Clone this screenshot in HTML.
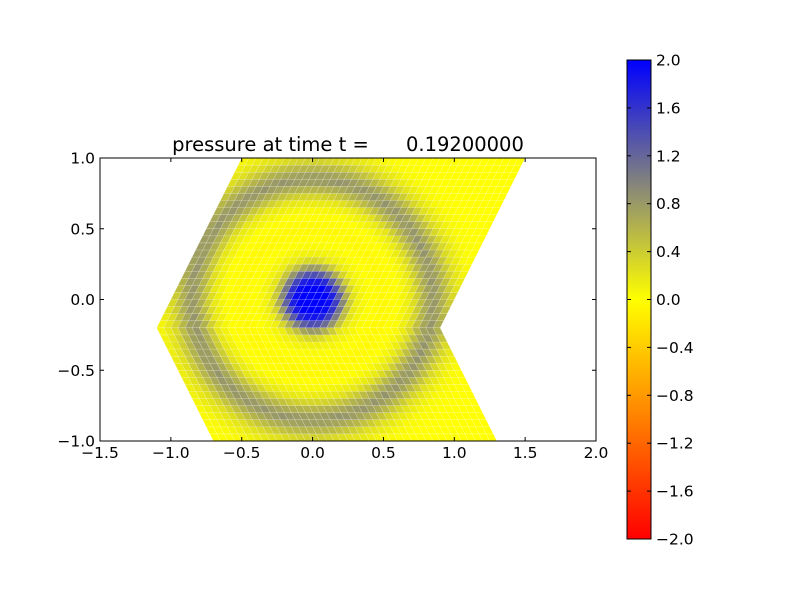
<!DOCTYPE html>
<html><head><meta charset="utf-8"><style>
body{margin:0;background:#fff;font-family:"DejaVu Sans",sans-serif}
text{white-space:pre}
</style></head><body>
<svg id="c" width="800" height="600" xmlns="http://www.w3.org/2000/svg" font-family="DejaVu Sans, sans-serif">
<rect width="800" height="600" fill="#fff"/>
<defs>
<linearGradient id="cg" x1="0" y1="1" x2="0" y2="0">
<stop offset="0" stop-color="#ff0000"/><stop offset="0.3" stop-color="#ff9900"/><stop offset="0.5" stop-color="#ffff00"/><stop offset="0.75" stop-color="#808080"/><stop offset="1" stop-color="#0000ff"/>
</linearGradient>
</defs>
<g id="mesh"></g>
<g id="axes"></g>
</svg>
<script>
const xTicks=[-1.5,-1.0,-0.5,0.0,0.5,1.0,1.5,2.0];
const yTicks=[-1.0,-0.5,0.0,0.5,1.0];
const cbTicks=[-2.0,-1.6,-1.2,-0.8,-0.4,0.0,0.4,0.8,1.2,1.6,2.0];
const profileR=[0,0.1,0.15,0.2,0.25,0.3,0.4,0.5,0.6,0.7,0.78,0.85,0.92,1.0,1.1,1.2,2.0];
const profileP=[2.0,2.0,1.7,1.1,0.5,0.15,0.0,-0.05,0.0,0.2,0.6,0.85,0.6,0.25,0.05,0.0,0.0];
const NS='http://www.w3.org/2000/svg';
const svg=document.getElementById('c');
const X0=100,X1=596,Y0=158,Y1=441;
const sx=v=>X0+(v+1.5)/3.5*(X1-X0);
const sy=v=>Y1-(v+1)/2*(Y1-Y0);
function el(t,a,p){const e=document.createElementNS(NS,t);for(const k in a)e.setAttribute(k,a[k]);(p||svg).appendChild(e);return e;}
function prof(r){for(let i=1;i<profileR.length;i++){if(r<=profileR[i]){const f=(r-profileR[i-1])/(profileR[i]-profileR[i-1]);return profileP[i-1]+f*(profileP[i]-profileP[i-1]);}}return 0;}
const stops=[[-2,[255,0,0]],[-0.8,[255,153,0]],[0,[255,255,0]],[1,[128,128,128]],[2,[0,0,255]]];
function cmap(v){v=Math.max(-2,Math.min(2,v));for(let i=1;i<stops.length;i++){if(v<=stops[i][0]){const a=stops[i-1],b=stops[i];const f=(v-a[0])/(b[0]-a[0]);return 'rgb('+a[1].map((c,j)=>Math.round(c+f*(b[1][j]-c))).join(',')+')';}}}
function xl(y){return y>=-0.2?-1.1+0.5*(y+0.2):-1.1+0.5*(-0.2-y);}
const mesh=document.getElementById('mesh');
const N=40;
for(let j=0;j<N;j++){const ya=-1+j*0.05,yb=ya+0.05;
 for(let i=0;i<N;i++){
  const pts=[[xl(ya)+i*0.05,ya],[xl(ya)+(i+1)*0.05,ya],[xl(yb)+(i+1)*0.05,yb],[xl(yb)+i*0.05,yb]];
  const cx=(pts[0][0]+pts[2][0])/2,cy=(ya+yb)/2;
  const p=prof(Math.hypot(cx,cy));
  const q=el('polygon',{points:pts.map(a=>sx(a[0])+','+sy(a[1])).join(' '),fill:cmap(p),stroke:'rgba(255,255,255,0.35)','stroke-width':0.5},mesh);
  
  
 }}
const ax=document.getElementById('axes');
const fr=el('rect',{x:X0,y:Y0,width:X1-X0,height:Y1-Y0,fill:'none',stroke:'#000'},ax);

xTicks.forEach(v=>{const x=sx(v);el('line',{x1:x,x2:x,y1:Y1,y2:Y1-4,stroke:'#000'},ax);el('line',{x1:x,x2:x,y1:Y0,y2:Y0+4,stroke:'#000'},ax);
 const t=el('text',{x:x,y:Y1+17,'text-anchor':'middle','font-size':15.5},ax);t.textContent=v.toFixed(1).replace('-','\u2212');
 });
yTicks.forEach(v=>{const y=sy(v);el('line',{x1:X0,x2:X0+4,y1:y,y2:y,stroke:'#000'},ax);el('line',{x1:X1,x2:X1-4,y1:y,y2:y,stroke:'#000'},ax);
 const t=el('text',{x:X0-5,y:y+5.5,'text-anchor':'end','font-size':15.5},ax);t.textContent=v.toFixed(1).replace('-','\u2212');
 });
const ti=el('text',{x:348,y:151,'text-anchor':'middle','font-size':19.5},ax);ti.textContent='pressure at time t =      0.19200000';

const CX0=627,CX1=651,CY0=60,CY1=539;
const cb=el('rect',{x:CX0,y:CY0,width:CX1-CX0,height:CY1-CY0,fill:'url(#cg)',stroke:'#000'},ax);

cbTicks.forEach(v=>{const y=CY1-(v+2)/4*(CY1-CY0);el('line',{x1:CX0,x2:CX0+4,y1:y,y2:y,stroke:'#000'},ax);el('line',{x1:CX1,x2:CX1-4,y1:y,y2:y,stroke:'#000'},ax);
 const t=el('text',{x:CX1+5,y:y+5.5,'font-size':15.5},ax);t.textContent=v.toFixed(1).replace('-','\u2212');
 });
</script>
</body></html>
